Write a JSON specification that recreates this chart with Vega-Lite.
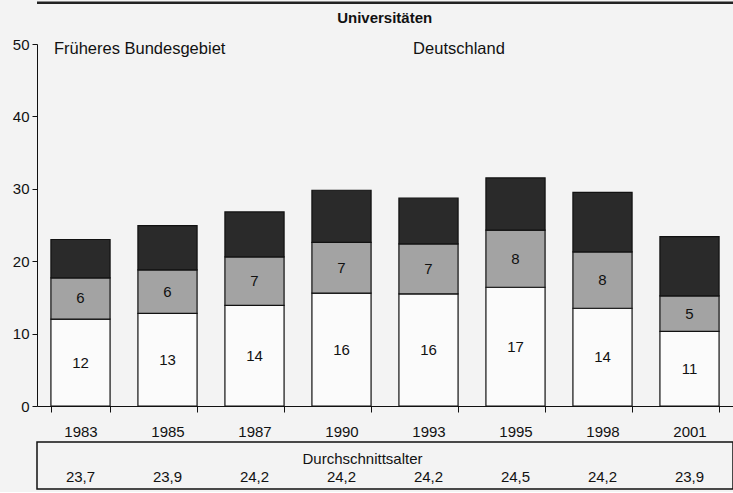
{
  "$schema": "https://vega.github.io/schema/vega-lite/v6.json",
  "background": "#f3f3f3",
  "padding": {"left": 12, "top": 1, "right": 0, "bottom": 2},
  "config": {"font": "Liberation Sans", "view": {"stroke": null}, "concat": {"spacing": 2}},
  "datasets": {
    "bars": [
      {"year": "1983", "seg": "a", "order": 1, "value": 12.0, "label": "12"},
      {"year": "1983", "seg": "b", "order": 2, "value": 5.7, "label": "6"},
      {"year": "1983", "seg": "c", "order": 3, "value": 5.3, "label": ""},
      {"year": "1985", "seg": "a", "order": 1, "value": 12.8, "label": "13"},
      {"year": "1985", "seg": "b", "order": 2, "value": 6.0, "label": "6"},
      {"year": "1985", "seg": "c", "order": 3, "value": 6.1, "label": ""},
      {"year": "1987", "seg": "a", "order": 1, "value": 13.9, "label": "14"},
      {"year": "1987", "seg": "b", "order": 2, "value": 6.7, "label": "7"},
      {"year": "1987", "seg": "c", "order": 3, "value": 6.2, "label": ""},
      {"year": "1990", "seg": "a", "order": 1, "value": 15.6, "label": "16"},
      {"year": "1990", "seg": "b", "order": 2, "value": 7.0, "label": "7"},
      {"year": "1990", "seg": "c", "order": 3, "value": 7.2, "label": ""},
      {"year": "1993", "seg": "a", "order": 1, "value": 15.5, "label": "16"},
      {"year": "1993", "seg": "b", "order": 2, "value": 6.9, "label": "7"},
      {"year": "1993", "seg": "c", "order": 3, "value": 6.3, "label": ""},
      {"year": "1995", "seg": "a", "order": 1, "value": 16.4, "label": "17"},
      {"year": "1995", "seg": "b", "order": 2, "value": 7.9, "label": "8"},
      {"year": "1995", "seg": "c", "order": 3, "value": 7.2, "label": ""},
      {"year": "1998", "seg": "a", "order": 1, "value": 13.5, "label": "14"},
      {"year": "1998", "seg": "b", "order": 2, "value": 7.8, "label": "8"},
      {"year": "1998", "seg": "c", "order": 3, "value": 8.2, "label": ""},
      {"year": "2001", "seg": "a", "order": 1, "value": 10.3, "label": "11"},
      {"year": "2001", "seg": "b", "order": 2, "value": 4.9, "label": "5"},
      {"year": "2001", "seg": "c", "order": 3, "value": 8.2, "label": ""}
    ],
    "ages": [
      {"year": "1983", "age": "23,7"},
      {"year": "1985", "age": "23,9"},
      {"year": "1987", "age": "24,2"},
      {"year": "1990", "age": "24,2"},
      {"year": "1993", "age": "24,2"},
      {"year": "1995", "age": "24,5"},
      {"year": "1998", "age": "24,2"},
      {"year": "2001", "age": "23,9"}
    ],
    "notes": [
      {"text": "Universitäten"}
    ]
  },
  "vconcat": [
    {
      "width": 696,
      "height": 362,
      "layer": [
        {
          "data": {"name": "bars"},
          "transform": [
            {"stack": "value", "groupby": ["year"], "sort": [{"field": "order"}], "as": ["v0", "v1"]}
          ],
          "mark": {"type": "bar", "stroke": "#111", "strokeWidth": 1.2},
          "encoding": {
            "x": {
              "field": "year", "type": "ordinal",
              "scale": {"paddingInner": 0.32, "paddingOuter": 0.16},
              "axis": {"title": null, "labelAngle": 0, "labelFontSize": 15, "labelColor": "#111", "tickBand": "extent", "tickSize": 6, "tickColor": "#111", "domainColor": "#111", "labelPadding": 12}
            },
            "y": {
              "field": "v0", "type": "quantitative",
              "scale": {"domain": [0, 50], "nice": false},
              "axis": {"title": null, "values": [0, 5, 10, 15, 20, 25, 30, 35, 40, 45, 50], "labelExpr": "datum.value % 10 == 0 ? datum.label : ''", "grid": false, "labelFontSize": 15, "labelColor": "#111", "tickSize": 5, "tickColor": "#111", "domainColor": "#111", "labelPadding": 3}
            },
            "y2": {"field": "v1"},
            "fill": {"field": "seg", "type": "nominal", "scale": {"domain": ["a", "b", "c"], "range": ["#fbfbfb", "#a3a3a3", "#2a2a2a"]}, "legend": null}
          }
        },
        {
          "data": {"name": "bars"},
          "transform": [
            {"stack": "value", "groupby": ["year"], "sort": [{"field": "order"}], "as": ["v0", "v1"]},
            {"calculate": "(datum.v0 + datum.v1) / 2", "as": "mid"},
            {"filter": "datum.label != ''"}
          ],
          "mark": {"type": "text", "fontSize": 15, "color": "#111"},
          "encoding": {
            "x": {"field": "year", "type": "ordinal"},
            "y": {"field": "mid", "type": "quantitative"},
            "text": {"field": "label"}
          }
        },
        {
          "data": {"name": "notes"},
          "mark": {"type": "text", "fontSize": 15, "fontWeight": "bold", "color": "#111"},
          "encoding": {
            "x": {"datum": "1990", "type": "ordinal", "bandPosition": 1.23},
            "y": {"datum": 53.6, "type": "quantitative"},
            "text": {"value": "Universitäten"}
          }
        },
        {
          "data": {"name": "notes"},
          "mark": {"type": "text", "fontSize": 16.5, "color": "#111", "align": "left"},
          "encoding": {
            "x": {"datum": "1983", "type": "ordinal", "bandPosition": 0.05},
            "y": {"datum": 49.3, "type": "quantitative"},
            "text": {"value": "Früheres Bundesgebiet"}
          }
        },
        {
          "data": {"name": "notes"},
          "mark": {"type": "text", "fontSize": 16.5, "color": "#111", "align": "left"},
          "encoding": {
            "x": {"datum": "1993", "type": "ordinal", "bandPosition": 0.24},
            "y": {"datum": 49.3, "type": "quantitative"},
            "text": {"value": "Deutschland"}
          }
        },
        {
          "data": {"name": "notes"},
          "mark": {"type": "rule", "color": "#222", "strokeWidth": 2.5},
          "encoding": {
            "y": {"datum": 55.7, "type": "quantitative"}
          }
        }
      ]
    },
    {
      "width": 696,
      "height": 47,
      "view": {"stroke": "#111", "strokeWidth": 1.5},
      "layer": [
        {
          "data": {"name": "ages"},
          "mark": {"type": "text", "fontSize": 15, "color": "#111"},
          "encoding": {
            "x": {"field": "year", "type": "ordinal", "scale": {"paddingInner": 0.32, "paddingOuter": 0.16}, "axis": null},
            "y": {"datum": 0.26, "type": "quantitative", "scale": {"domain": [0, 1]}, "axis": null},
            "text": {"field": "age"}
          }
        },
        {
          "data": {"name": "notes"},
          "mark": {"type": "text", "fontSize": 15, "color": "#111", "dx": 21},
          "encoding": {
            "x": {"datum": "1990", "type": "ordinal"},
            "y": {"datum": 0.64, "type": "quantitative"},
            "text": {"value": "Durchschnittsalter"}
          }
        }
      ]
    }
  ]
}
